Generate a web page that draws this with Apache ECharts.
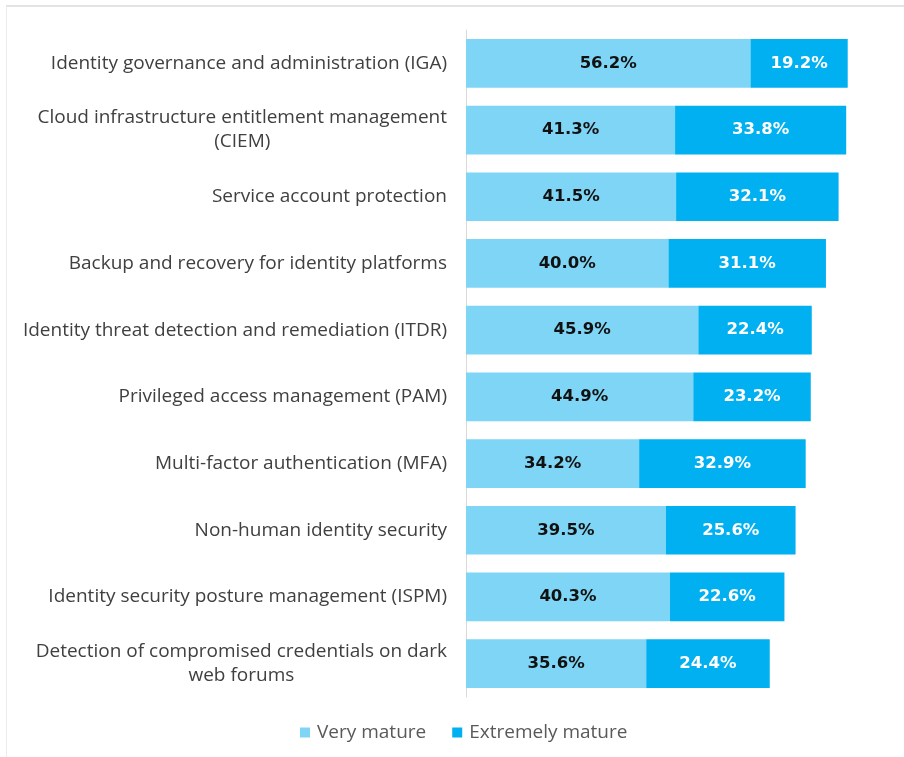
<!DOCTYPE html>
<html>
<head>
<meta charset="utf-8">
<script src="https://cdn.jsdelivr.net/npm/echarts@6/dist/echarts.min.js"></script>
<style>
  html, body { margin: 0; padding: 0; background: #ffffff; }
  #frame {
    position: absolute; left: 6px; top: 5px; width: 898px; height: 752px;
    border-top: 2px solid #e3e3e3; border-left: 1px solid #ececec;
    box-sizing: border-box;
  }
  #chart { position: absolute; left: 0; top: 0; width: 904px; height: 757px; }
</style>
</head>
<body>
<div id="frame"></div>
<div id="chart"></div>
<script>
// Identity security capabilities, top to bottom
const categories = [
  "Identity governance and administration (IGA)",
  "Cloud infrastructure entitlement management\n(CIEM)",
  "Service account protection",
  "Backup and recovery for identity platforms",
  "Identity threat detection and remediation (ITDR)",
  "Privileged access management (PAM)",
  "Multi-factor authentication (MFA)",
  "Non-human identity security",
  "Identity security posture management (ISPM)",
  "Detection of compromised credentials on dark\nweb forums"
];
const veryMature      = [56.2, 41.3, 41.5, 40.0, 45.9, 44.9, 34.2, 39.5, 40.3, 35.6];
const extremelyMature = [19.2, 33.8, 32.1, 31.1, 22.4, 23.2, 32.9, 25.6, 22.6, 24.4];
const seriesNames = ["Very mature", "Extremely mature"];

const FONT = "'Open Sans', 'Noto Sans', sans-serif";
const BOLD_FONT = "'DejaVu Sans', sans-serif";
const chart = echarts.init(document.getElementById('chart'));

// y axis is a category axis; reverse it so the first category sits on top
const yCats = categories.slice().reverse();
const vmData = veryMature.slice().reverse();
const emData = extremelyMature.slice().reverse();

const pct = function (p) { return p.value.toFixed(1) + '%'; };

chart.setOption({
  backgroundColor: 'transparent',
  animation: false,
  grid: { left: 466, right: 33, top: 30, bottom: 60, containLabel: false },
  xAxis: {
    type: 'value', min: 0, max: 80, show: false
  },
  yAxis: {
    type: 'category',
    data: yCats,
    axisLine: { show: true, lineStyle: { color: '#d9d9d9', width: 1 } },
    axisTick: { show: false },
    axisLabel: {
      margin: 19,
      formatter: function (v) {
        return v.split('\n').map(function (s) { return '{c|' + s + '}'; }).join('\n');
      },
      rich: {
        c: { align: 'center', fontSize: 19, lineHeight: 24, color: '#404040', fontFamily: FONT }
      }
    }
  },
  legend: {
    bottom: 10, left: 295,
    itemWidth: 10, itemHeight: 10, itemGap: 26,
    icon: 'rect',
    textStyle: { fontSize: 19, color: '#595959', fontFamily: FONT, padding: [0, 0, 0, 2] },
    data: seriesNames
  },
  series: [
    {
      name: seriesNames[0], type: 'bar', stack: 'total', data: vmData,
      barWidth: '73%',
      itemStyle: { color: '#7fd5f5' },
      label: {
        show: true, position: 'inside', formatter: pct,
        color: '#111111', fontWeight: 'bold', fontSize: 16.5, fontFamily: BOLD_FONT
      }
    },
    {
      name: seriesNames[1], type: 'bar', stack: 'total', data: emData,
      itemStyle: { color: '#00b0f0' },
      label: {
        show: true, position: 'inside', formatter: pct,
        color: '#ffffff', fontWeight: 'bold', fontSize: 16.5, fontFamily: BOLD_FONT
      }
    }
  ]
});
</script>
</body>
</html>
